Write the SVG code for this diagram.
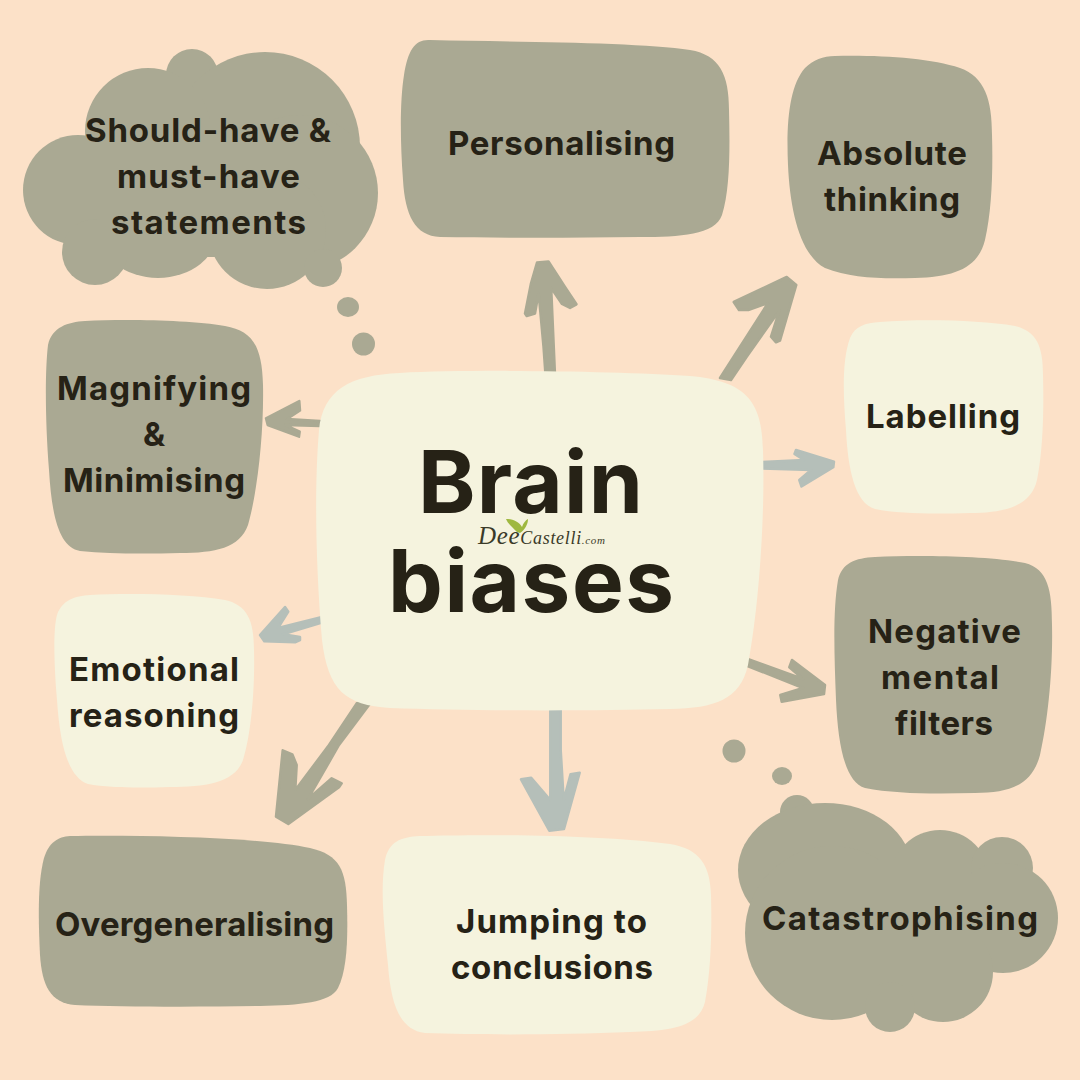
<svg xmlns="http://www.w3.org/2000/svg" width="1080" height="1080" viewBox="0 0 1080 1080">
<style>
.o{fill:#aaa993}
.c{fill:#f5f3de}
.ao{fill:#aaa993;stroke:#aaa993;stroke-width:2.5;stroke-linejoin:round}
.ab{fill:#b5bfb9;stroke:#b5bfb9;stroke-width:2.5;stroke-linejoin:round}
text{font-family:"Inter","Liberation Sans",sans-serif;fill:#262216}
.l{font-size:33px;font-weight:700}
.t{font-size:87px;font-weight:700}
.logo{font-family:"Liberation Serif",serif;font-style:italic;fill:#3a3a28}
</style>
<rect width="1080" height="1080" fill="#fce1c8"/>
<g id="connectors">
<path class="ao" d="M545.500,375L543.500,346.700L538.600,293L535,313.500L526.700,316L525,313.500L531,283.300L537,262.500L548.500,261.500L565,287L576.500,304.300L570,308L562,304L551.200,288L555,375Z"/>
<path class="ao" d="M720,378L768,303L748.300,310L739,310L733.700,302L786.700,277L796.300,285L780,340.700L776,342.300L771,336.700L779.300,310.700L746.700,356.700L731,380Z"/>
<path class="ab" d="M760,462L804,460L794.500,454L796,450L834,461.700L833.300,467.300L801.500,486.500L799.300,480L811,470L760,468.500Z"/>
<path class="ao" d="M745,658L803,679L789.300,667.300L792,660L825,685L824,694L781.700,701.700L780.300,695L803,688L745,665Z"/>
<path class="ab" d="M550.300,705L560.700,705L560.700,750L563.700,800L570.500,774.300L579.700,772.700L564,829L549.300,830.700L521,779.300L531.200,777.700L550.300,800L550.300,750Z"/>
<path class="ao" d="M357,703L370.500,703L339,745L308,799L331.700,778.300L341.700,783.300L339,787.300L288.300,824L276,816.700L282.700,750.300L292.300,754.300L296.700,765L295.300,790L329,745Z"/>
<path class="ab" d="M322,617L322,622.500L283,634.300L300,637L300,640L295,642.300L264.300,641.300L260,635L285,607L288.300,611.700L278,628Z"/>
<path class="ao" d="M320,421L287,419L300,410.500L299.300,401L266,418.300L267.700,425L299,436.700L299.700,431.700L285,425L320,426Z"/>
</g>
<g id="node-should">
<g class="o">
<circle cx="192" cy="75" r="26"/><circle cx="265" cy="147" r="95"/><circle cx="148" cy="131" r="63"/><circle cx="78" cy="190" r="55"/><circle cx="300" cy="193" r="78"/><circle cx="267" cy="230" r="59"/><ellipse cx="158" cy="230" rx="60" ry="48"/><circle cx="95" cy="252" r="33"/><circle cx="323" cy="268" r="19"/><rect x="100" y="120" width="200" height="137"/>
<ellipse cx="348" cy="307" rx="11" ry="10"/><circle cx="363.500" cy="344" r="11.500"/>
</g>
<text class="l" x="85" y="142" textLength="246">Should-have &amp;</text>
<text class="l" x="117" y="188" textLength="183">must-have</text>
<text class="l" x="111" y="234" textLength="195">statements</text>
</g>
<g id="node-personalising">
<path class="o" d="M430,40C520,42 640,42 690,50C720,55 729,75 729,110C730,150 730,190 722,215C715,235 680,237 640,237C570,238 500,238 440,237C415,236 405,215 403,180C400,140 400,100 404,75C408,50 415,39 430,40Z"/>
<text class="l" x="448" y="155" textLength="227">Personalising</text>
</g>
<g id="node-absolute">
<path class="o" d="M835,56C880,55 930,58 960,68C985,77 992,100 992,135C993,170 992,210 985,240C978,268 955,277 915,278C880,279 850,278 825,268C800,255 790,210 788,165C786,120 790,85 805,68C813,60 823,56 835,56Z"/>
<text class="l" x="817" y="165" textLength="150">Absolute</text>
<text class="l" x="824" y="211" textLength="136">thinking</text>
</g>
<g id="node-labelling">
<path class="c" d="M880,322C920,319 980,320 1015,326C1036,331 1043,345 1043,375C1044,410 1043,450 1037,480C1031,506 1005,513 970,513C935,514 900,514 875,509C855,503 848,470 846,430C843,395 842,360 850,338C855,326 865,323 880,322Z"/>
<text class="l" x="866" y="428" textLength="154">Labelling</text>
</g>
<g id="node-negative">
<path class="o" d="M875,557C920,555 990,556 1025,563C1048,569 1052,590 1052,625C1053,670 1048,720 1040,755C1032,785 1010,793 975,793C935,794 895,794 865,788C845,782 838,745 836,700C834,650 833,610 838,580C842,563 855,558 875,557Z"/>
<text class="l" x="868" y="643" textLength="153">Negative</text>
<text class="l" x="881" y="689" textLength="118">mental</text>
<text class="l" x="895" y="735" textLength="98">filters</text>
</g>
<g id="node-catastrophising">
<g class="o">
<circle cx="797" cy="812" r="17"/><ellipse cx="825" cy="870" rx="87" ry="67"/><circle cx="940" cy="880" r="50"/><circle cx="1002" cy="868" r="31"/><circle cx="1003" cy="918" r="55"/><circle cx="832" cy="933" r="87"/><circle cx="943" cy="972" r="50"/><circle cx="890" cy="1007" r="25"/><rect x="830" y="860" width="140" height="120"/>
<circle cx="734" cy="751" r="11.500"/><ellipse cx="782" cy="776" rx="10" ry="9"/>
</g>
<text class="l" x="762" y="930" textLength="276">Catastrophising</text>
</g>
<g id="node-jumping">
<path class="c" d="M420,836C490,834 600,835 670,844C700,849 710,865 711,895C712,930 711,970 705,1002C699,1027 670,1031 630,1032C560,1035 480,1035 425,1033C400,1030 391,1005 388,965C384,925 380,890 385,860C389,842 400,837 420,836Z"/>
<text class="l" x="456" y="933" textLength="191">Jumping to</text>
<text class="l" x="451" y="979" textLength="202">conclusions</text>
</g>
<g id="node-overgeneralising">
<path class="o" d="M70,836C140,835 260,837 310,848C340,855 346,870 347,905C348,940 347,970 338,988C330,1003 300,1005 260,1006C200,1007 120,1007 75,1005C50,1003 42,985 40,955C38,915 38,880 44,858C49,842 58,837 70,836Z"/>
<text class="l" x="55" y="936" textLength="279">Overgeneralising</text>
</g>
<g id="node-emotional">
<path class="c" d="M90,595C130,593 190,594 225,600C247,605 254,620 254,650C255,690 251,735 243,760C235,783 205,787 170,787C140,788 110,788 88,784C68,777 60,745 57,700C54,665 53,630 57,615C62,600 75,596 90,595Z"/>
<text class="l" x="69" y="681" textLength="170">Emotional</text>
<text class="l" x="69" y="727" textLength="170">reasoning</text>
</g>
<g id="node-magnifying">
<path class="o" d="M85,321C125,319 190,320 225,326C252,331 262,345 263,385C264,430 258,490 248,525C240,548 215,553 180,553C145,554 110,554 80,551C60,547 52,520 49,470C45,420 45,370 48,345C52,327 68,322 85,321Z"/>
<text class="l" x="57" y="400" textLength="194">Magnifying</text>
<text class="l" x="154" y="446" text-anchor="middle">&amp;</text>
<text class="l" x="63" y="492" textLength="182">Minimising</text>
</g>
<g id="node-center">
<path class="c" d="M400,373C470,369 620,371 690,376C745,381 762,400 763,450C765,510 760,600 748,665C740,700 715,708 670,709C590,711 470,711 390,708C345,705 328,690 322,640C316,570 314,490 319,430C323,390 350,375 400,373Z"/>
<text class="t" x="418" y="513" textLength="225">Brain</text>
<text class="t" x="388" y="612" textLength="286">biases</text>
<path d="M517,532C513,528 508,524 506,519C513,519 519,522 522,527C523,523 526,520 528,519C528,524 525,530 520,533Z" fill="#9fb83f"/>
<text class="logo" x="478" y="544" textLength="127"><tspan font-size="25">Dee</tspan><tspan font-size="18">Castelli</tspan><tspan font-size="11">.com</tspan></text>
</g>
</svg>
